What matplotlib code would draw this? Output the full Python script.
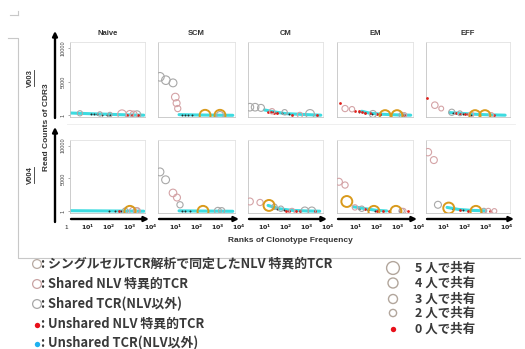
import numpy as np
import matplotlib
matplotlib.use('Agg')
import matplotlib.pyplot as plt

plt.rcParams['font.family'] = ['Noto Sans CJK JP', 'DejaVu Sans']

W, H = 525, 349  # figure size in pixels

subsets = ['Naive', 'SCM', 'CM', 'EM', 'EFF']
donors = ['V003', 'V004']

# panel index: 0-4 = V003 (Naive..EFF), 5-9 = V004
# shared TCR (not NLV) - gray open circles
gray_p = [0, 0, 0, 0, 1, 1, 1, 1, 2, 2, 2, 2, 2, 3, 3, 4, 4, 5, 5, 6, 6, 6, 6, 6, 7, 7, 7, 7, 8, 8, 9, 9]
gray_x = [4.5, 39, 116, 2150, 1.9, 3.6, 7.8, 1250, 2.1, 3.7, 7, 90, 1400, 67, 1500, 25, 60, 600, 2000,
          1.9, 3.5, 16.6, 1000, 1500, 30, 60, 800, 1700, 20, 1500, 5.6, 800]
gray_y = [300, 200, 120, 100, 5700, 5200, 4800, 50, 1200, 1200, 1100, 450, 200, 200, 50, 450, 300, 100, 100,
          6000, 4800, 1000, 80, 100, 700, 400, 80, 80, 400, 60, 1000, 100]
gray_s = [14, 10, 10, 30, 38, 38, 32, 25, 30, 30, 25, 15, 40, 25, 15, 20, 12, 15, 20,
          32, 32, 20, 25, 20, 15, 15, 30, 30, 15, 15, 25, 12]

# shared NLV-specific TCR - rosy open circles
rosy_p = [0, 0, 0, 1, 1, 1, 2, 2, 3, 3, 3, 4, 4, 4, 4, 5, 5, 6, 6, 7, 7, 7, 8, 8, 8, 8, 9, 9, 9, 9]
rosy_x = [425, 1000, 1500, 10, 11.5, 13, 23, 470, 3.3, 7, 2000, 4, 8, 200, 1800, 1400, 2200, 7.8, 12,
          2.1, 6.3, 200, 1.7, 3.3, 9.6, 1800, 1.9, 3.6, 1300, 2500]
rosy_y = [150, 150, 120, 2700, 1800, 1000, 600, 50, 1000, 900, 50, 1500, 1000, 100, 50, 80, 80, 2800, 2100,
          1500, 1350, 50, 4500, 4000, 600, 50, 9000, 7800, 50, 50]
rosy_s = [40, 30, 25, 30, 25, 20, 15, 15, 20, 15, 12, 22, 12, 15, 12, 25, 20, 30, 25,
          25, 20, 15, 25, 20, 15, 15, 28, 25, 15, 12]

# NLV-specific TCR identified by single-cell TCR analysis - orange open circles
orng_p = [1, 1, 3, 3, 4, 4, 5, 6, 7, 8, 8, 8, 9, 9]
orng_x = [250, 1250, 250, 910, 310, 900, 1000, 200, 16.6, 4, 75, 810, 18, 340]
orng_y = [0, 0, -50, -50, -50, -50, 0, 0, 900, 1500, 0, 0, 500, 0]

# unshared NLV-specific TCR - red dots
red_p = [0, 0, 0, 2, 2, 2, 2, 2, 2, 3, 3, 3, 3, 3, 3, 3, 3, 3, 4, 4, 4, 4, 4, 4, 5,
         7, 7, 7, 7, 7, 8, 8, 8, 8, 8, 8, 9, 9, 9]
red_x = [700, 1200, 2500, 15, 20, 30, 40, 200, 3000, 1.9, 10, 15, 20, 30, 50, 100, 150, 2000,
         1.7, 40, 60, 100, 150, 2500, 300, 100, 150, 300, 500, 2500, 30, 100, 200, 400, 1200, 3000,
         60, 150, 1500]
red_y = [100, 80, 50, 500, 550, 400, 300, 100, 50, 1800, 700, 600, 500, 400, 300, 200, 150, 50,
         2500, 300, 250, 200, 150, 50, 50, 100, 80, 50, 50, 50, 300, 100, 80, 50, 50, 40,
         200, 100, 50]

# other clonotypes - black dots
blk_p = [0, 0, 0, 0, 0, 0, 1, 1, 1, 1, 2, 2, 2, 2, 3, 3, 3, 3, 4, 4, 4, 5, 5, 5, 6, 6, 6, 7, 7, 7, 8, 8, 8, 9, 9]
blk_x = [15, 20, 30, 50, 80, 120, 20, 30, 40, 60, 25, 40, 70, 150, 15, 30, 60, 150, 30, 80, 200,
         100, 200, 400, 20, 30, 50, 40, 80, 150, 15, 40, 80, 30, 80]
blk_y = [200, 180, 150, 120, 100, 80, 0, 0, 0, 0, 500, 400, 300, 200, 550, 350, 250, 100, 350, 200, 100,
         50, 50, 50, 0, 0, 0, 400, 200, 100, 400, 200, 100, 300, 150]

# unshared TCR (not NLV) - cyan band
cyan_x = [[1.3, 10, 100, 1000, 4500], [15, 100, 1000, 5000], [10, 30, 100, 1000, 4500],
          [20, 50, 200, 1000, 4000], [20, 100, 500, 2000, 8000], [1.3, 10, 100, 1000, 4500],
          [15, 100, 1000, 5000], [15, 50, 200, 1000, 4000], [8, 30, 100, 300], [15, 50, 200, 1000]]
cyan_y = [[350, 250, 150, 50, 20], [100, 50, 20, 0], [800, 500, 250, 100, 20],
          [600, 300, 150, 60, 20], [400, 250, 120, 60, 20], [100, 80, 60, 40, 20],
          [80, 50, 30, 10], [900, 400, 150, 60, 20], [700, 400, 150, 60], [600, 300, 150, 80]]

legend_left = ['シングルセルTCR解析で同定したNLV 特異的TCR', 'Shared NLV 特異的TCR', 'Shared TCR(NLV以外)',
               'Unshared NLV 特異的TCR', 'Unshared TCR(NLV以外)']
legend_right = ['5 人で共有', '4 人で共有', '3 人で共有', '2 人で共有', '0 人で共有']

# layout (pixels)
col_l = [70, 158, 248, 337, 426]
col_r = [145, 235, 323, 413, 510]
col_x0 = [66, 154, 243, 334, 422]  # pixel of rank 1
dec = 21.3  # pixels per decade
row_t = [42, 140]
row_b = [117, 213]

fig = plt.figure(figsize=(W / 100, H / 100), dpi=100)

axes = []
for r in range(2):
    for c in range(5):
        l, rr, t, b = col_l[c], col_r[c], row_t[r], row_b[r]
        ax = fig.add_axes([l / W, 1 - b / H, (rr - l) / W, (b - t) / H])
        ax.set_xscale('log')
        ax.set_xlim(10 ** ((l - col_x0[c]) / dec), 10 ** ((rr - col_x0[c]) / dec))
        ax.set_ylim(-250, 10850)
        for sp in ax.spines.values():
            sp.set_color('#e2e2e2')
            sp.set_linewidth(0.6)
        ax.spines['left'].set_color('#c4c4c4')
        ax.spines['bottom'].set_color('#c4c4c4')
        ax.set_xticks([])
        ax.minorticks_off()
        ax.tick_params(axis='x', which='both', length=0, labelbottom=False)
        if c == 0:
            ax.set_yticks([1, 5000, 10000])
            ax.set_yticklabels(['1', '5000', '10000'], rotation=90, va='center', fontsize=4,
                               family='Liberation Sans', color='#444444')
            ax.tick_params(axis='y', length=1.5, width=0.5, pad=1.5, color='#888888')
        else:
            ax.set_yticks([])
        if r == 0:
            ax.set_title(subsets[c], fontsize=5.5, fontweight='bold', family='Liberation Sans',
                         color='#333333', pad=5)
        axes.append(ax)

for p, ax in enumerate(axes):
    ax.plot(cyan_x[p], cyan_y[p], color='#3ddbe0', lw=2.2, solid_capstyle='round', zorder=2)
    for x, y, pp in zip(blk_x, blk_y, blk_p):
        if pp == p:
            ax.scatter(x, y, s=2, color='#2a2a2a', zorder=3, linewidths=0)
    for x, y, pp in zip(red_x, red_y, red_p):
        if pp == p:
            ax.scatter(x, y, s=4, color='#e0201b', zorder=3, linewidths=0)
    for x, y, s, pp in zip(gray_x, gray_y, gray_s, gray_p):
        if pp == p:
            ax.scatter(x, y, s=s, facecolors='none', edgecolors='#a8a8a8', linewidths=0.8, zorder=4)
    for x, y, s, pp in zip(rosy_x, rosy_y, rosy_s, rosy_p):
        if pp == p:
            ax.scatter(x, y, s=s, facecolors='none', edgecolors='#d4a3a6', linewidths=0.8, zorder=4)
    for x, y, pp in zip(orng_x, orng_y, orng_p):
        if pp == p:
            ax.scatter(x, y, s=62, facecolors='none', edgecolors='#d99a1c', linewidths=1.4, zorder=5)

# x tick labels under the bottom row
for c in range(5):
    ax = axes[5 + c]
    ks = [0, 1, 2, 3, 4] if c == 0 else [1, 2, 3, 4]
    for k in ks:
        lab = '1' if k == 0 else r'$\mathbf{10^{%d}}$' % k
        ax.text(10 ** k, -0.2, lab, transform=ax.get_xaxis_transform(), ha='center', va='center',
                fontsize=4.5, color='#222222', family='Liberation Sans', clip_on=False)

# overlay for frame, arrows, labels and legend
ov = fig.add_axes([0, 0, 1, 1], zorder=10)
ov.set_xlim(0, W)
ov.set_ylim(H, 0)
ov.axis('off')
ov.patch.set_alpha(0)

fc = '#c8c8c8'
ov.plot([10, 18], [15, 15], color=fc, lw=0.8)
ov.plot([18, 18], [11, 15], color=fc, lw=0.8)
ov.plot([8, 18, 18, 520], [38, 38, 258, 258], color=fc, lw=0.8)
ov.plot([67, 515], [124, 124], color='#ececec', lw=0.6)

arw = dict(arrowstyle='-|>', color='black', lw=1.7, mutation_scale=7, shrinkA=0, shrinkB=0)
ov.annotate('', xy=(55, 31), xytext=(55, 118), arrowprops=arw)
ov.annotate('', xy=(55, 127), xytext=(55, 222), arrowprops=arw)
for c in range(5):
    ov.annotate('', xy=(col_r[c] + 4, 219), xytext=(col_l[c] + 1, 219), arrowprops=arw)

ov.text(47, 127, 'Read Counts of CDR3', rotation=90, ha='center', va='center', fontsize=6,
        fontweight='bold', family='Liberation Sans', color='#333333')
for name, yc in zip(donors, [78, 175]):
    ov.text(30, yc, name, rotation=90, ha='center', va='center', fontsize=5.5,
            fontweight='bold', family='Liberation Sans', color='#333333')
    ov.plot([34, 34], [yc - 8, yc + 8], color='#333333', lw=0.6)
ov.text(290, 240, 'Ranks of Clonotype Frequency', ha='center', va='center', fontsize=6,
        fontweight='bold', family='Liberation Sans', color='#333333')

# left legend
leg_y = [264, 284, 304, 324, 343]
leg_ec = ['#b8aaa2', '#c9a3a3', '#a8a8a8']
for i, (txt, y) in enumerate(zip(legend_left, leg_y)):
    if i < 3:
        ov.scatter(37, y, s=40, facecolors='none', edgecolors=leg_ec[i], linewidths=0.9)
    else:
        ov.scatter(37, y + 1, s=15, color='#e8101a' if i == 3 else '#1fb1ef', linewidths=0)
    ov.text(41, y, ': ' + txt, ha='left', va='center', fontsize=9.3, fontweight='bold', color='#3a3a3a')

# right legend
rleg_y = [268, 283, 299, 313, 329]
rleg_s = [85, 52, 42, 27, 15]
for i, (txt, y) in enumerate(zip(legend_right, rleg_y)):
    if i < 4:
        ov.scatter(393, y, s=rleg_s[i], facecolors='none', edgecolors='#b2a69c', linewidths=1.0)
    else:
        ov.scatter(393, y, s=rleg_s[i], color='#e8101a', linewidths=0)
    ov.text(415, y, txt, ha='left', va='center', fontsize=9.0, fontweight='bold', color='#3a3a3a')

fig.savefig('out.png', dpi=100)
